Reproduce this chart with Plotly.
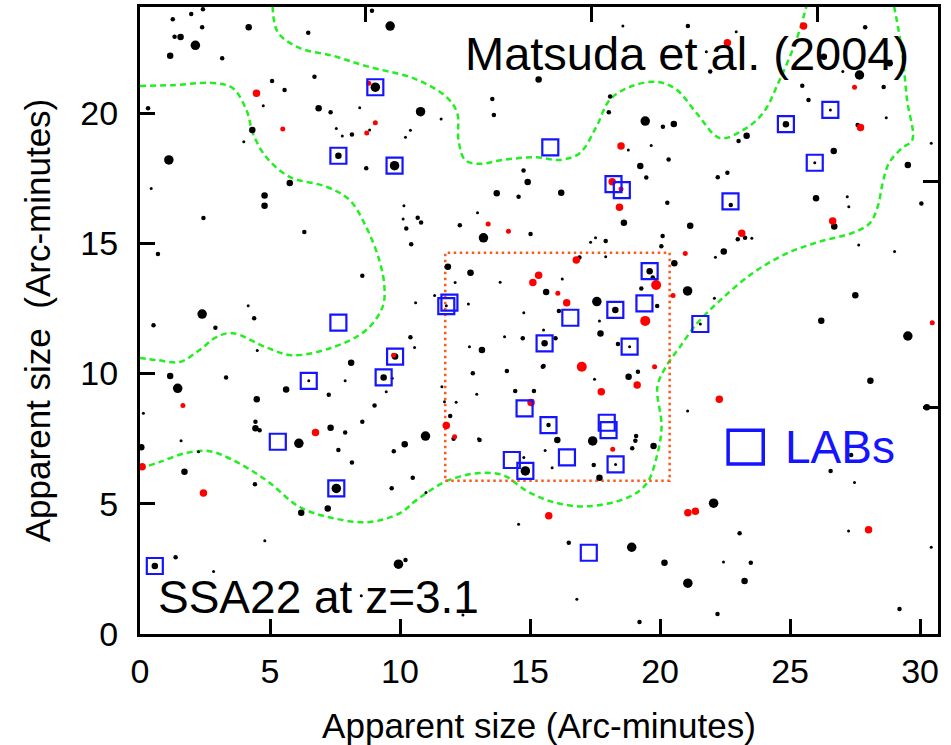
import plotly.graph_objects as go

# ---------------- data ----------------
# LAB positions (arcmin)
lab_x = [9.05, 7.63, 9.79, 7.63, 11.90, 11.78, 9.81, 6.49, 9.37, 5.30, 7.55, 0.57,
         15.78, 18.21, 18.53, 22.71, 24.84, 26.55, 25.95, 19.60, 19.40, 18.28, 16.55,
         15.56, 18.83, 21.55, 14.79, 15.71, 17.95, 18.02, 16.42, 14.30, 14.82, 18.29, 17.26]
lab_y = [20.99, 18.36, 17.98, 11.95, 12.72, 12.59, 10.65, 9.72, 9.85, 7.38, 5.59, 2.61,
         18.68, 17.27, 17.04, 16.61, 19.57, 20.12, 18.09, 13.93, 12.69, 12.44, 12.14,
         11.16, 11.03, 11.90, 8.66, 8.02, 8.11, 7.83, 6.78, 6.68, 6.26, 6.51, 3.12]

# black galaxies by brightness class
black_bright_x = [2.13, 9.62, 10.79, 1.11, 9.79, 2.39, 1.45, 6.11, 10.98, 7.55, 9.94, 19.43,
                  13.21, 17.57, 21.06, 27.67, 29.53, 17.41, 14.82, 18.91, 21.07, 22.06, 9.05]
black_bright_y = [22.60, 23.34, 20.05, 18.20, 17.98, 12.28, 9.43, 7.32, 7.60, 5.59, 2.68, 19.69,
                  15.21, 12.76, 13.17, 21.46, 11.44, 7.41, 6.26, 3.33, 1.95, 5.02, 20.99]

black_medium_x = [1.56, 1.16, 4.18, 6.87, 4.32, 7.63, 5.76, 4.79, 4.79, 11.84, 12.71, 8.12,
                  9.81, 1.16, 5.62, 4.49, 9.37, 4.44, 7.33, 10.18, 0.05, 1.71, 7.22, 6.20,
                  0.57, 15.33, 20.53, 19.24, 14.91, 13.72, 16.20, 18.61, 21.16, 15.62, 19.60,
                  20.55, 17.71, 15.56, 13.15, 23.33, 24.84, 26.68, 26.30, 28.83, 29.53, 26.00,
                  26.70, 22.45, 27.51, 26.20, 18.28, 18.79, 16.05, 19.75, 17.67, 20.17, 23.25,
                  28.09, 30.26]
black_medium_y = [22.92, 22.20, 23.29, 20.18, 19.35, 18.36, 17.31, 16.83, 16.44, 14.10, 13.87, 10.41,
                  10.65, 9.90, 9.39, 9.01, 9.85, 7.90, 7.92, 7.28, 7.17, 6.23, 4.82, 4.65,
                  2.61, 21.29, 19.58, 17.97, 17.35, 16.92, 16.94, 15.79, 15.67, 13.13, 13.93,
                  14.23, 11.54, 11.16, 10.90, 19.13, 19.57, 18.54, 22.16, 21.91, 18.00, 16.73,
                  15.64, 14.68, 13.00, 12.03, 12.44, 9.88, 7.45, 7.22, 6.00, 2.74, 2.03,
                  9.72, 8.70]

black_faint_x = [1.26, 1.97, 2.42, 1.33, 2.39, 3.16, 6.47, 8.92, 0.31, 5.08, 5.56, 6.71, 7.33,
                 8.15, 8.70, 2.44, 6.32, 10.24, 10.68, 10.81, 10.43, 12.30, 0.69, 8.55, 4.39,
                 0.52, 2.90, 10.40, 3.31, 7.26, 9.02, 8.55, 4.44, 4.60, 7.89, 7.63, 8.15, 9.76,
                 10.49, 9.68, 4.42, 1.37, 10.21, 11.93, 12.06, 12.80, 21.07, 21.93, 13.55, 13.61,
                 18.08, 18.03, 20.11, 20.33, 19.47, 14.75, 14.56, 15.02, 20.28, 20.10, 20.05,
                 17.91, 16.90, 12.74, 16.11, 19.89, 19.72, 19.28, 18.38, 15.98, 14.72, 15.49,
                 22.59, 22.22, 22.72, 23.02, 25.71, 25.47, 28.60, 27.60, 27.89, 30.05, 22.99,
                 23.27, 14.11, 15.52, 14.43, 15.15, 19.15, 13.06, 19.05, 19.08, 18.93, 17.45,
                 16.49, 19.21, 23.06, 23.49, 22.21, 26.56, 27.35, 29.21, 15.71]
black_faint_y = [23.60, 23.80, 23.98, 22.93, 23.29, 22.10, 23.08, 23.93, 20.18, 21.23, 20.88, 21.39, 20.03,
                 19.18, 17.88, 15.97, 15.43, 15.57, 15.98, 15.80, 14.96, 15.69, 14.59, 13.75, 12.12,
                 11.85, 11.76, 11.39, 9.85, 9.18, 8.77, 8.15, 8.15, 7.82, 7.74, 7.06, 6.58, 7.02,
                 6.00, 5.60, 5.75, 2.95, 2.84, 8.37, 7.50, 10.01, 23.34, 21.59, 20.54, 19.92,
                 20.63, 20.03, 19.47, 18.22, 17.52, 17.79, 16.79, 15.36, 16.56, 15.28, 14.89,
                 15.09, 14.45, 13.85, 12.40, 12.59, 13.69, 13.26, 11.13, 11.35, 11.35, 10.26,
                 17.71, 17.53, 16.47, 18.93, 20.50, 21.05, 21.00, 19.54, 23.29, 16.53, 15.15,
                 15.21, 10.10, 10.29, 9.33, 9.33, 10.07, 7.45, 7.42, 7.60, 7.13, 6.49,
                 3.50, 0.46, 3.87, 2.74, 0.77, 6.26, 6.87, 0.96, 8.02]

black_vfaint_x = [4.74, 8.45, 11.58, 7.55, 7.78, 8.83, 10.21, 10.40, 3.99, 0.43, 10.15, 10.12, 12.98,
                  12.12, 11.33, 12.63, 10.60, 11.78, 4.16, 10.56, 12.67, 4.51, 6.49, 7.89, 9.70,
                  9.47, 0.13, 1.58, 2.25, 11.00, 4.80, 2.83, 11.71, 11.61, 12.16, 13.02, 8.51,
                  12.42, 18.57, 21.78, 22.93, 19.66, 18.78, 17.52, 17.33, 17.91, 13.85, 16.24,
                  14.76, 17.67, 18.83, 15.52, 14.02, 22.09, 21.55, 26.55, 27.03, 28.70, 30.43,
                  27.20, 27.26, 23.53, 22.13, 27.64, 29.02, 25.95, 17.48, 12.95, 15.58, 14.76,
                  15.85, 18.29, 14.56, 16.80, 21.06, 22.44, 27.48, 27.25, 30.43]
black_vfaint_y = [20.28, 20.20, 19.77, 19.41, 19.12, 19.35, 19.07, 19.34, 18.90, 17.10, 16.44, 15.93, 16.17,
                  13.49, 12.99, 12.67, 12.72, 12.60, 12.60, 11.00, 11.03, 10.88, 9.72, 9.72, 9.82,
                  9.30, 8.47, 7.42, 7.00, 5.43, 3.58, 2.40, 8.92, 9.49, 8.90, 7.50, 1.47,
                  0.73, 23.34, 22.35, 23.12, 18.75, 18.58, 15.21, 15.04, 14.48, 13.50, 13.63,
                  12.33, 12.02, 11.03, 11.67, 11.41, 12.89, 11.90, 20.12, 21.59, 19.82, 18.84,
                  16.79, 16.40, 15.19, 14.46, 14.93, 14.68, 18.09, 9.78, 9.20, 7.04, 6.78,
                  6.38, 6.51, 4.21, 1.33, 8.56, 2.76, 5.82, 3.95, 3.33]

# red galaxies by brightness class
red_bright_x = [19.85, 19.43, 16.99]
red_bright_y = [13.40, 12.02, 10.26]
red_medium_x = [4.48, 6.75, 0.08, 2.44, 25.52, 22.59, 27.71, 18.50, 18.16, 18.44, 23.14, 26.64,
                16.78, 15.33, 15.11, 16.41, 19.12, 17.74, 15.04, 22.28, 15.72, 21.07, 21.36,
                28.02, 11.78]
red_medium_y = [20.76, 7.74, 6.42, 5.41, 23.34, 22.70, 19.44, 18.73, 17.36, 16.38, 15.38, 15.85,
                14.36, 13.77, 13.49, 12.72, 9.56, 9.30, 8.89, 9.01, 4.54, 4.65, 4.71,
                4.00, 8.00]
red_faint_x = [5.49, 9.05, 8.72, 8.80, 9.75, 1.65, 12.10, 27.48, 18.50, 13.39, 14.17, 20.97,
               16.07, 20.50, 19.79, 30.47, 18.18]
red_faint_y = [19.39, 19.63, 19.23, 21.14, 10.70, 8.77, 7.57, 20.99, 17.08, 15.74, 15.46, 14.61,
               13.08, 12.99, 10.26, 11.95, 7.09]

# density contours (green dashed)
contour_top_x = [5.10, 5.30, 6.13, 7.40, 8.70, 10.60, 11.80, 12.20, 12.25, 12.50, 13.06, 13.94,
                 15.25, 16.13, 16.90, 17.55, 18.06, 18.83, 19.87, 20.63, 21.40, 22.30, 23.20,
                 23.96, 24.60, 25.24, 25.63]
contour_top_y = [24.10, 23.10, 22.50, 22.20, 21.80, 21.30, 20.60, 20.00, 18.96, 18.20, 18.05, 18.20,
                 18.30, 18.20, 18.45, 19.47, 20.50, 21.00, 21.20, 20.90, 20.00, 19.04, 19.35,
                 20.00, 21.27, 22.80, 24.10]
contour_main_x = [29.00, 29.30, 29.50, 29.70, 29.30, 28.80, 28.56, 28.37, 28.06, 27.40, 26.10, 24.85,
                  23.56, 22.30, 21.40, 20.75, 20.25, 19.90, 20.06, 19.87, 19.50, 18.83, 17.20,
                  15.87, 14.86, 13.96, 13.06, 12.29, 11.65, 10.63, 10.00, 8.83, 7.40, 6.13,
                  4.86, 3.56, 2.67, 1.78, 0.75, 0.00]
contour_main_y = [24.10, 22.40, 20.50, 18.96, 18.65, 18.07, 17.30, 16.40, 15.76, 15.40, 15.05, 14.60,
                  13.85, 12.80, 11.90, 11.00, 10.30, 9.50, 7.96, 6.80, 5.80, 5.27, 4.90,
                  5.07, 5.50, 6.10, 6.18, 6.04, 5.80, 5.14, 4.64, 4.30, 4.45, 4.88,
                  5.90, 6.68, 7.02, 6.95, 6.60, 6.35]
contour_left_x = [0.00, 1.25, 2.80, 3.56, 4.10, 4.35, 4.86, 5.75, 7.17, 8.06, 8.70, 9.20, 9.40,
                  9.33, 8.70, 7.40, 5.87, 4.86, 3.56, 2.94, 2.29, 1.52, 0.63, 0.00]
contour_left_y = [21.04, 21.07, 21.15, 20.96, 20.10, 19.20, 18.30, 17.55, 17.17, 16.66, 15.62, 14.36, 13.33,
                  12.56, 11.67, 11.00, 10.70, 11.00, 11.55, 11.40, 10.90, 10.44, 10.52, 10.60]

# sub-field (orange dotted box)
box_x = [11.74, 20.37, 20.37, 11.74, 11.74]
box_y = [5.88, 5.88, 14.64, 14.64, 5.88]

x_tick_vals = [0, 5, 10, 15, 20, 25, 30]
y_tick_vals = [0, 5, 10, 15, 20]
secondary_tick_vals = [8.68, 17.36, 26.04]

# ---------------- style ----------------
FONT = "Liberation Sans, Arial, Helvetica, sans-serif"
GREEN = "#22ee22"
BLUE = "#1414ff"
RED = "#ff0000"
ORANGE = "#ff5a1e"
X_RANGE = [0, 30.69]
Y_RANGE = [0, 24.07]

fig = go.Figure()

for cx, cy in [(contour_top_x, contour_top_y), (contour_main_x, contour_main_y),
               (contour_left_x, contour_left_y)]:
    fig.add_trace(go.Scatter(x=cx, y=cy, mode="lines",
                             line=dict(color=GREEN, width=2.5, dash="6px,4px", shape="spline", smoothing=1.0),
                             hoverinfo="skip", showlegend=False))

fig.add_trace(go.Scatter(x=box_x, y=box_y, mode="lines",
                         line=dict(color=ORANGE, width=2.5, dash="2.5px,3.5px"),
                         hoverinfo="skip", showlegend=False))

for xs, ys, sz in [(black_vfaint_x, black_vfaint_y, 3), (black_faint_x, black_faint_y, 4.5),
                   (black_medium_x, black_medium_y, 6.5), (black_bright_x, black_bright_y, 9.5)]:
    fig.add_trace(go.Scatter(x=xs, y=ys, mode="markers",
                             marker=dict(color="black", size=sz, line=dict(width=0)),
                             showlegend=False))

for xs, ys, sz in [(red_faint_x, red_faint_y, 5), (red_medium_x, red_medium_y, 7.5),
                   (red_bright_x, red_bright_y, 10)]:
    fig.add_trace(go.Scatter(x=xs, y=ys, mode="markers",
                             marker=dict(color=RED, size=sz, line=dict(width=0)),
                             showlegend=False))

fig.add_trace(go.Scatter(x=lab_x, y=lab_y, mode="markers", name="LABs",
                         marker=dict(symbol="square-open", size=16, color=BLUE, line=dict(width=2.2, color=BLUE)),
                         showlegend=False))

# invisible trace to anchor the secondary (top/right) axes
fig.add_trace(go.Scatter(x=[None], y=[None], xaxis="x2", yaxis="y2", showlegend=False))

axis_common = dict(showline=True, linecolor="black", linewidth=3, mirror=True,
                   ticks="inside", ticklen=15, tickwidth=3, tickcolor="black",
                   showgrid=False, zeroline=False, automargin=False,
                   tickfont=dict(family=FONT, size=34, color="black"))

fig.update_layout(
    width=951, height=745,
    margin=dict(l=140, r=13, t=7, b=111, autoexpand=False),
    paper_bgcolor="white", plot_bgcolor="white",
    font=dict(family=FONT, color="black"),
    xaxis=dict(range=X_RANGE, tickvals=x_tick_vals, ticklabelstandoff=5,
               title=dict(text="Apparent size (Arc-minutes)", font=dict(family=FONT, size=35), standoff=29),
               **axis_common),
    yaxis=dict(range=Y_RANGE, tickvals=y_tick_vals, ticklabelstandoff=12,
               title=dict(text="Apparent size\u00a0 (Arc-minutes)", font=dict(family=FONT, size=35), standoff=20),
               **axis_common),
    xaxis2=dict(range=X_RANGE, overlaying="x", side="top", tickvals=secondary_tick_vals,
                showticklabels=False, ticks="inside", ticklen=15, tickwidth=3, tickcolor="black",
                showgrid=False, zeroline=False, showline=False, automargin=False),
    yaxis2=dict(range=Y_RANGE, overlaying="y", side="right", tickvals=secondary_tick_vals,
                showticklabels=False, ticks="inside", ticklen=15, tickwidth=3, tickcolor="black",
                showgrid=False, zeroline=False, showline=False, automargin=False),
    showlegend=False,
)

# legend key (drawn manually, large square like the original)
fig.add_shape(type="rect", xref="paper", yref="paper", x0=0.737, x1=0.781, y0=0.271, y1=0.325,
              line=dict(color=BLUE, width=3.5), fillcolor="rgba(0,0,0,0)")
fig.add_annotation(text="LABs", xref="paper", yref="paper", x=0.806, y=0.298,
                   xanchor="left", yanchor="middle", showarrow=False,
                   font=dict(family=FONT, size=46, color=BLUE))
fig.add_annotation(text="Matsuda et al. (2004)", xref="paper", yref="paper", x=0.966, y=0.926,
                   xanchor="right", yanchor="middle", showarrow=False,
                   font=dict(family=FONT, size=47, color="black"))
fig.add_annotation(text="SSA22 at z=3.1", xref="paper", yref="paper", x=0.02, y=0.059,
                   xanchor="left", yanchor="middle", showarrow=False,
                   font=dict(family=FONT, size=46, color="black"))

fig.write_html("out.html", config={"displayModeBar": False},
               post_script="document.body.style.margin='0px';document.body.style.overflow='hidden';")
